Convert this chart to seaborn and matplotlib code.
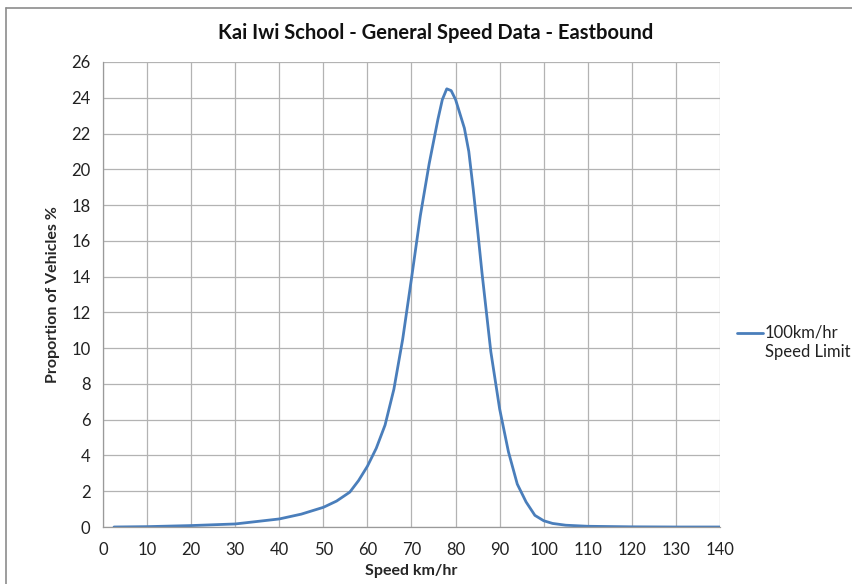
import numpy as np
import pandas as pd
import seaborn as sns
import matplotlib.pyplot as plt
from matplotlib.lines import Line2D

# Speed distribution (km/hr vs % of vehicles)
speed = [2.5, 10, 20, 30, 40, 45, 50, 53, 56, 58, 60, 62, 64, 66, 68, 70,
         72, 74, 76, 77, 78, 79, 80, 82, 83, 84, 85, 86, 88, 90, 92, 94,
         96, 98, 100, 102, 105, 110, 120, 130, 140]
proportion = [0.0, 0.02, 0.08, 0.17, 0.45, 0.72, 1.1, 1.45, 1.95, 2.6, 3.4,
              4.4, 5.7, 7.7, 10.5, 13.9, 17.4, 20.3, 22.8, 23.9, 24.5, 24.4,
              23.9, 22.3, 21.0, 18.9, 16.6, 14.2, 9.8, 6.6, 4.2, 2.4, 1.4,
              0.65, 0.35, 0.2, 0.1, 0.04, 0.01, 0.0, 0.0]
series_lines = ["100km/hr", "Speed Limit"]

df = pd.DataFrame({"speed": speed, "proportion": proportion})

sns.set_style("white")
plt.rcParams['font.family'] = ['Lato', 'DejaVu Sans']

fig = plt.figure(figsize=(8.53, 5.84), dpi=100)
ax = fig.add_axes([103 / 853, 1 - 527 / 584, 617 / 853, 465 / 584])

line_color = "#4a7ebb"
sns.lineplot(data=df, x="speed", y="proportion", ax=ax, color=line_color,
             linewidth=2.0, legend=False)

ax.set_xlim(0, 140)
ax.set_ylim(0, 26)
ax.set_xticks(np.arange(0, 141, 10))
ax.set_yticks(np.arange(0, 27, 2))
ax.grid(True, color="#b3b3b3", linewidth=0.9)
ax.set_axisbelow(True)

for side in ["top", "right"]:
    ax.spines[side].set_visible(False)
for side in ["left", "bottom"]:
    ax.spines[side].set_color("#9a9a9a")
    ax.spines[side].set_linewidth(0.9)

ax.tick_params(axis="both", which="major", length=5, width=0.9, color="#9a9a9a",
               labelsize=12, labelcolor="#222222", direction="out")
ax.tick_params(axis="x", pad=6)
ax.tick_params(axis="y", pad=4)

ax.set_xlabel("Speed km/hr", fontsize=11.5, fontweight="bold", labelpad=4)
ax.set_ylabel("Proportion of Vehicles %", fontsize=11.5, fontweight="bold", labelpad=8)

fig.text(436 / 853, 1 - 33 / 584, "Kai Iwi School - General Speed Data - Eastbound",
         ha="center", va="center", fontsize=14.5, fontweight="bold", color="#111111")

# legend on the right: sample line level with the first text line
fig.add_artist(Line2D([737 / 853, 763 / 853], [1 - 333 / 584, 1 - 333 / 584],
                      transform=fig.transFigure, color=line_color, linewidth=2.0))
fig.text(765 / 853, 1 - 333 / 584, series_lines[0], ha="left", va="center",
         fontsize=12, color="#222222")
fig.text(765 / 853, 1 - 352 / 584, series_lines[1], ha="left", va="center",
         fontsize=12, color="#222222")

# chart frame (only top and left edges are visible in the crop)
fig.add_artist(Line2D([6 / 853, 1], [1 - 8 / 584, 1 - 8 / 584],
                      transform=fig.transFigure, color="#8c8c8c", linewidth=1.2))
fig.add_artist(Line2D([6 / 853, 6 / 853], [0, 1 - 8 / 584],
                      transform=fig.transFigure, color="#8c8c8c", linewidth=1.2))

fig.savefig("out.png", dpi=100)
plt.close()
